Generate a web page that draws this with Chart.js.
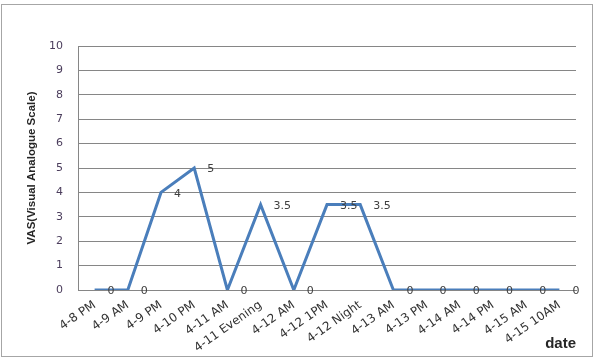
<!DOCTYPE html>
<html>
<head>
<meta charset="utf-8">
<script src="https://cdn.jsdelivr.net/npm/chart.js@4"></script>
<style>
  html, body { margin: 0; padding: 0; background: #fff; }
  #wrap { width: 596px; height: 359px; }
</style>
</head>
<body>
<div id="wrap"><canvas id="vas-chart" width="596" height="359"></canvas></div>
<script>
/* ── Data ─────────────────────────────────────────────────── */

const categories = [
  '4-8 PM', '4-9 AM', '4-9 PM', '4-10 PM', '4-11 AM', '4-11 Evening',
  '4-12 AM', '4-12 1PM', '4-12 Night', '4-13 AM', '4-13 PM', '4-14 AM',
  '4-14 PM', '4-15 AM', '4-15 10AM',
];

const vasValues = [0, 0, 4, 5, 0, 3.5, 0, 3.5, 3.5, 0, 0, 0, 0, 0, 0];

const yTicks = [0, 1, 2, 3, 4, 5, 6, 7, 8, 9, 10];

/* ── Plugins ──────────────────────────────────────────────── */

// white background + thin grey frame like the Excel chart box
const frame = {
  id: 'frame',
  beforeDraw(chart) {
    const { ctx } = chart;
    ctx.save();
    ctx.fillStyle = '#fff';
    ctx.fillRect(0, 0, chart.width, chart.height);
    ctx.strokeStyle = '#a6a6a6';
    ctx.lineWidth = 1;
    ctx.strokeRect(1.5, 4.5, 591, 352);
    ctx.restore();
  },
};

// value labels to the right of each point
const valueLabels = {
  id: 'valueLabels',
  afterDatasetsDraw(chart) {
    const { ctx } = chart;
    const meta = chart.getDatasetMeta(0);
    ctx.save();
    ctx.font = '11px "DejaVu Sans", sans-serif';
    ctx.fillStyle = '#404040';
    ctx.textAlign = 'left';
    ctx.textBaseline = 'middle';
    meta.data.forEach((pt, i) => {
      ctx.fillText(String(vasValues[i]), pt.x + 13, pt.y + 1.5);
    });
    ctx.restore();
  },
};

/* ── Chart ────────────────────────────────────────────────── */

new Chart(document.getElementById('vas-chart'), {
  type: 'line',
  data: {
    labels: categories,
    datasets: [
      {
        data: vasValues,
        borderColor: '#4a7ebb',
        borderWidth: 3,
        pointRadius: 0,
        tension: 0,
        fill: false,
      },
    ],
  },
  options: {
    responsive: false,
    animation: false,
    layout: { padding: { top: 46, right: 20, left: 0, bottom: 0 } },
    plugins: {
      legend: { display: false },
      tooltip: { enabled: false },
    },
    scales: {
      x: {
        offset: true,
        grid: { display: false, drawTicks: false },
        border: { color: '#868686', width: 1 },
        ticks: {
          color: '#333',
          font: { family: '"DejaVu Sans", sans-serif', size: 12 },
          minRotation: 35,
          maxRotation: 35,
          autoSkip: false,
          padding: 8,
        },
        title: {
          display: true,
          text: 'date',
          align: 'end',
          color: '#262626',
          font: { family: '"Liberation Sans", sans-serif', size: 15, weight: 'bold' },
          padding: { top: 0, bottom: 6 },
        },
        afterFit: (scale) => { scale.height = 69; },
      },
      y: {
        min: 0,
        max: 10,
        afterBuildTicks: (scale) => {
          scale.ticks = yTicks.map((v) => ({ value: v }));
        },
        grid: { color: '#868686', drawTicks: false },
        border: { color: '#868686', width: 1 },
        ticks: {
          color: '#4b3d5c',
          font: { family: '"DejaVu Sans", sans-serif', size: 11 },
          padding: 15,
        },
        title: {
          display: true,
          text: 'VAS(Visual Analogue Scale)',
          color: '#262626',
          font: { family: '"Liberation Sans", sans-serif', size: 11.5, weight: 'bold' },
          padding: { top: 25, bottom: 0 },
        },
        afterFit: (scale) => { scale.width = 78; },
      },
    },
  },
  plugins: [frame, valueLabels],
});
</script>
</body>
</html>
